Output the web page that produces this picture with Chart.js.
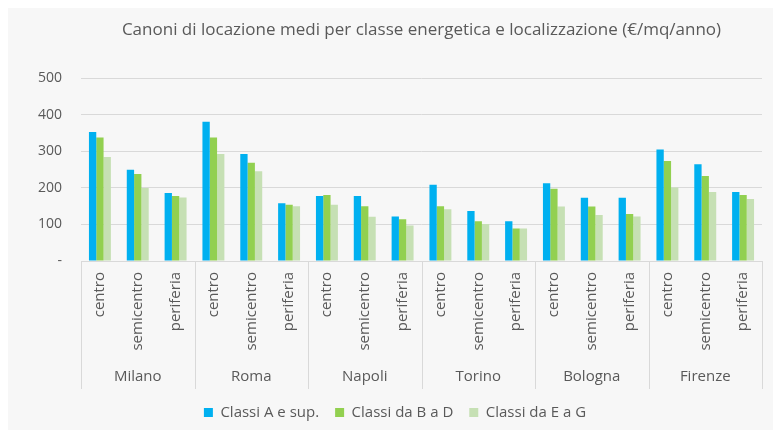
<!DOCTYPE html>
<html>
<head>
<meta charset="utf-8">
<script src="https://cdn.jsdelivr.net/npm/chart.js@4/dist/chart.umd.min.js"></script>
<style>
  html, body { margin: 0; padding: 0; background: #fff; }
  #wrap { width: 773px; height: 430px; }
</style>
</head>
<body>
<div id="wrap"><canvas id="chart" width="773" height="430"></canvas></div>
<script>
// Dati
var cities = ['Milano', 'Roma', 'Napoli', 'Torino', 'Bologna', 'Firenze']
var zones = ['centro', 'semicentro', 'periferia']
var classeA = [353, 250, 186, 381, 293, 158, 178, 178, 122, 209, 137, 109, 213, 173, 173, 305, 265, 189]
var classeBD = [338, 238, 178, 338, 269, 154, 181, 150, 114, 150, 109, 89, 198, 149, 129, 274, 233, 181]
var classeEG = [285, 200, 174, 293, 246, 150, 154, 121, 97, 142, 101, 89, 149, 126, 122, 201, 189, 170]

var labels = []
cities.forEach(function(c){
  zones.forEach(function(z){ labels.push(z) })
})

var grey = '#595959'
var lineCol = '#d9d9d9'
var font = "'Open Sans', sans-serif"

// sfondo grigio, titolo centrato sull'area del grafico e separatori tra le città
var decor = {
  id: 'decor',
  afterLayout: function(chart){
    var t = chart.titleBlock
    if (t){
      t.left = chart.chartArea.left
      t.right = chart.chartArea.right
    }
    var l = chart.legend
    if (l){
      l.left += 14
      l.right += 14
    }
  },
  beforeDraw: function(chart){
    var ctx = chart.ctx
    ctx.save()
    ctx.fillStyle = '#f7f7f7'
    ctx.fillRect(8, 8, chart.width - 8, chart.height - 8)
    ctx.restore()
  },
  afterDraw: function(chart){
    var ctx = chart.ctx
    var x = chart.scales.x
    var x2 = chart.scales.x2
    var top = chart.chartArea.bottom
    var bottom = x2.bottom
    ctx.save()
    ctx.strokeStyle = lineCol
    ctx.lineWidth = 1
    for (var i = 0; i <= cities.length; i++){
      var px
      if (i == 0) px = chart.chartArea.left
      else if (i == cities.length) px = chart.chartArea.right
      else px = (x.getPixelForValue(i*3 - 1) + x.getPixelForValue(i*3)) / 2
      px = Math.round(px) + 0.5
      ctx.beginPath()
      ctx.moveTo(px, top)
      ctx.lineTo(px, bottom)
      ctx.stroke()
    }
    ctx.restore()
  }
}

var chart = new Chart(document.getElementById('chart'), {
  type: 'bar',
  data: {
    labels: labels,
    datasets: [
      {
        label: 'Classi A e sup.',
        data: classeA,
        backgroundColor: '#00b0f0'
      },
      {
        label: 'Classi da B a D',
        data: classeBD,
        backgroundColor: '#92d050'
      },
      {
        label: 'Classi da E a G',
        data: classeEG,
        backgroundColor: '#c6e0b4'
      }
    ]
  },
  plugins: [decor],
  options: {
    responsive: false,
    animation: false,
    layout: {
      padding: { left: 0, right: 11, top: 0, bottom: 0 }
    },
    datasets: {
      bar: {
        categoryPercentage: 0.58,
        barPercentage: 1
      }
    },
    plugins: {
      title: {
        display: true,
        text: 'Canoni di locazione medi per classe energetica e localizzazione (€/mq/anno)',
        color: grey,
        font: { family: font, size: 17, weight: 'normal' },
        padding: { top: 20, bottom: 38 },
        align: 'center'
      },
      legend: {
        position: 'bottom',
        labels: {
          color: grey,
          font: { family: font, size: 15 },
          boxWidth: 9,
          boxHeight: 9,
          padding: 16
        }
      },
      tooltip: { enabled: false }
    },
    scales: {
      x: {
        type: 'category',
        position: 'bottom',
        grid: { display: false, drawTicks: false },
        border: { display: true, color: lineCol },
        ticks: {
          color: grey,
          font: { family: font, size: 15 },
          autoSkip: false,
          minRotation: 90,
          maxRotation: 90,
          padding: 11
        },
        afterFit: function(scale){ scale.height = 100 }
      },
      x2: {
        type: 'category',
        position: 'bottom',
        labels: cities,
        offset: true,
        grid: { display: false, drawTicks: false },
        border: { display: false },
        ticks: {
          color: grey,
          font: { family: font, size: 15 },
          padding: 7
        },
        afterFit: function(scale){ scale.height = 28 }
      },
      y: {
        min: 0,
        max: 500,
        grid: { color: lineCol, drawTicks: false },
        border: { display: false },
        ticks: {
          stepSize: 100,
          color: grey,
          font: { family: font, size: 14 },
          padding: 19,
          callback: function(v){ return v == 0 ? '-' : v }
        },
        afterFit: function(scale){ scale.width = 81 }
      }
    }
  }
})
</script>
</body>
</html>
